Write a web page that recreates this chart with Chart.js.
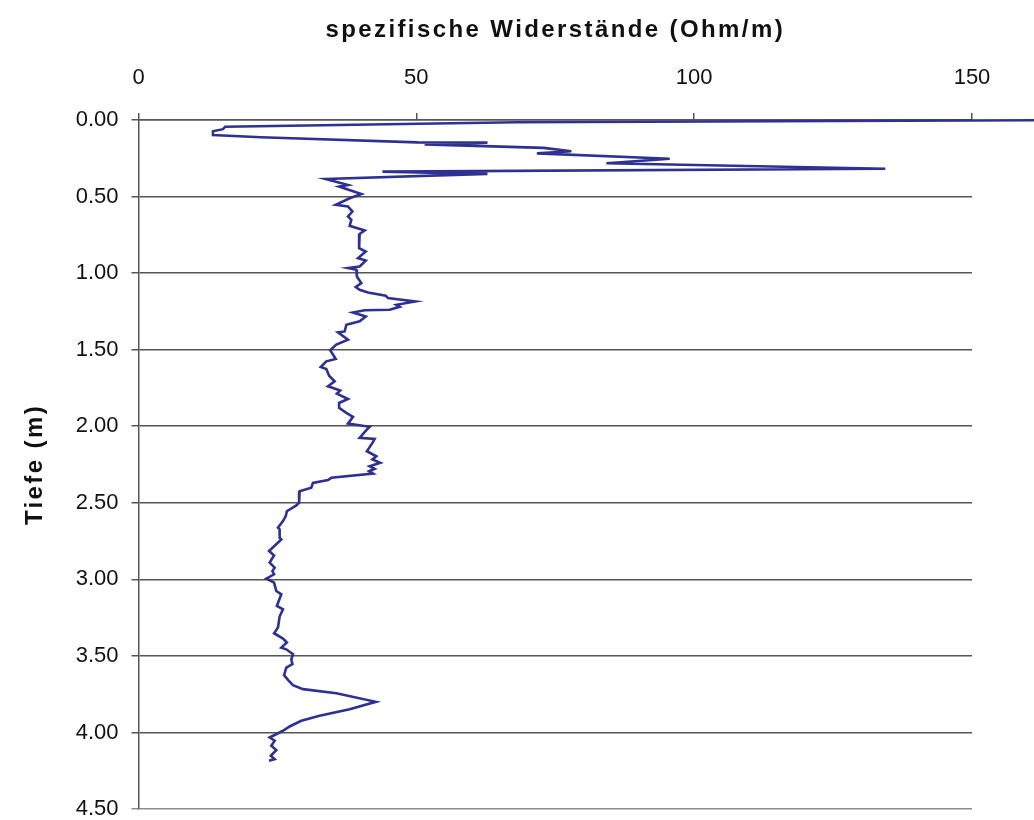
<!DOCTYPE html>
<html>
<head>
<meta charset="utf-8">
<title>Widerstandsprofil</title>
<script src="https://cdn.jsdelivr.net/npm/chart.js@4.4.1/dist/chart.umd.min.js"></script>
<style>
    html, body { margin: 0; padding: 0; background: #fff; }
    #wrap { width: 1034px; height: 820px; }
</style>
</head>
<body>
<div id="wrap"><canvas id="profileChart" width="1034" height="820"></canvas></div>
<script>
// Tiefe (m) und spezifischer Widerstand (Ohm/m)
const depths = [
    0.000, 0.015, 0.044, 0.060, 0.074, 0.098, 0.113, 0.146, 0.148, 0.159,
    0.182, 0.204, 0.218, 0.253, 0.282, 0.318, 0.337, 0.352, 0.385, 0.424,
    0.435, 0.483, 0.511, 0.554, 0.565, 0.598, 0.630, 0.652, 0.691, 0.722,
    0.744, 0.837, 0.859, 0.902, 0.918, 0.957, 0.967, 0.978, 1.022, 1.065,
    1.091, 1.109, 1.126, 1.148, 1.163, 1.185, 1.207, 1.220, 1.239, 1.243,
    1.257, 1.283, 1.315, 1.337, 1.381, 1.387, 1.435, 1.467, 1.504, 1.561,
    1.576, 1.613, 1.626, 1.670, 1.707, 1.739, 1.767, 1.787, 1.822, 1.848,
    1.880, 1.913, 1.939, 1.983, 2.004, 2.026, 2.076, 2.083, 2.109, 2.163,
    2.196, 2.217, 2.239, 2.261, 2.278, 2.294, 2.309, 2.337, 2.352, 2.370,
    2.402, 2.424, 2.500, 2.517, 2.555, 2.587, 2.620, 2.663, 2.674, 2.728,
    2.739, 2.815, 2.844, 2.891, 2.924, 2.946, 2.967, 2.996, 3.022, 3.076,
    3.098, 3.174, 3.196, 3.243, 3.315, 3.352, 3.387, 3.413, 3.446, 3.457,
    3.489, 3.522, 3.554, 3.576, 3.626, 3.657, 3.691, 3.717, 3.744, 3.800,
    3.848, 3.891, 3.924, 3.961, 3.989, 4.033, 4.054, 4.087, 4.115, 4.152,
    4.174, 4.185
];
const resistivity = [
    170.0, 68.1, 15.6, 15.2, 13.4, 13.4, 22.0, 50.2, 62.8, 51.5,
    72.9, 77.9, 71.7, 95.6, 84.2, 134.4, 43.9, 62.8, 33.7, 37.7,
    36.1, 40.1, 38.0, 35.5, 37.7, 38.5, 37.7, 38.3, 38.0, 40.7,
    39.8, 39.7, 40.9, 39.5, 40.9, 39.8, 37.7, 39.2, 39.3, 40.1,
    39.1, 39.8, 41.3, 44.5, 44.9, 49.8, 46.4, 47.0, 45.2, 40.7,
    38.6, 40.9, 39.8, 37.4, 37.1, 35.9, 37.7, 35.6, 34.5, 35.5,
    33.8, 32.8, 33.8, 34.3, 35.3, 34.1, 36.3, 35.7, 37.7, 36.1,
    36.1, 37.4, 38.6, 37.7, 41.6, 41.0, 39.8, 42.5, 42.1, 41.1,
    42.8, 42.1, 43.5, 41.6, 42.5, 41.5, 42.2, 34.7, 34.1, 31.4,
    31.1, 29.0, 28.9, 28.4, 26.7, 26.5, 26.0, 25.1, 25.4, 25.4,
    25.7, 23.5, 24.4, 23.6, 24.5, 24.1, 24.4, 23.0, 24.4, 24.8,
    25.7, 24.9, 26.0, 25.4, 25.1, 24.4, 26.0, 26.7, 25.7, 26.6,
    27.8, 27.5, 27.7, 26.6, 26.2, 26.9, 27.8, 29.6, 35.6, 42.7,
    38.0, 32.6, 29.3, 27.2, 26.0, 23.6, 24.5, 23.9, 24.8, 23.8,
    24.5, 23.5
];

const resistivityTicks = [0, 50, 100, 150];
const depthTicks = [0, 0.5, 1, 1.5, 2, 2.5, 3, 3.5, 4, 4.5];

const points = depths.map((d, i) => ({ x: resistivity[i], y: d }));

const axisFont = { family: '"Liberation Sans", Arial, sans-serif', size: 22 };
const titleFont = { family: '"Liberation Sans", Arial, sans-serif', size: 24, weight: 'bold' };

// Titel mit Sperrung, Tick-Beschriftung ohne
const titleSpacing = {
    id: 'titleSpacing',
    beforeDraw(chart) { chart.ctx.letterSpacing = '2.4px'; },
    beforeDatasetsDraw(chart) { chart.ctx.letterSpacing = '0px'; }
};

new Chart(document.getElementById('profileChart'), {
    type: 'scatter',
    data: {
        datasets: [{
            data: points,
            showLine: true,
            borderColor: '#2e3192',
            borderWidth: 2.6,
            pointRadius: 0,
            tension: 0,
            clip: false
        }]
    },
    options: {
        responsive: false,
        animation: false,
        layout: { padding: { top: 0, left: 0, right: 62, bottom: 11 } },
        plugins: {
            legend: { display: false },
            tooltip: { enabled: false }
        },
        scales: {
            x: {
                type: 'linear',
                position: 'top',
                min: 0,
                max: 150,
                afterBuildTicks: (s) => { s.ticks = resistivityTicks.map(v => ({ value: v })); },
                afterFit: (s) => { s.height = 120; s.paddingLeft = 0; s.paddingRight = 0; },
                grid: { drawOnChartArea: false, drawTicks: true, tickLength: 7, color: '#555', lineWidth: 1.5 },
                border: { display: true, color: '#555', width: 1.5 },
                ticks: { font: axisFont, color: '#111', padding: 22, maxRotation: 0, z: 1 },
                title: {
                    display: true,
                    text: 'spezifische Widerstände (Ohm/m)',
                    font: titleFont,
                    color: '#111',
                    padding: { top: 16, bottom: 0 }
                }
            },
            y: {
                type: 'linear',
                reverse: true,
                min: 0,
                max: 4.5,
                afterBuildTicks: (s) => { s.ticks = depthTicks.map(v => ({ value: v })); },
                afterFit: (s) => { s.width = 138.5; s.paddingTop = 0; s.paddingBottom = 0; },
                grid: {
                    drawOnChartArea: true,
                    drawTicks: true,
                    tickLength: 7,
                    color: (ctx) => (ctx.tick && ctx.tick.value === 4.5 ? '#8c8c8c' : '#555'),
                    lineWidth: 1.5
                },
                border: { display: true, color: '#555', width: 1.5 },
                ticks: {
                    font: axisFont,
                    color: '#111',
                    padding: 13,
                    z: 1,
                    callback: (v) => Number(v).toFixed(2)
                },
                title: {
                    display: true,
                    text: 'Tiefe (m)',
                    font: titleFont,
                    color: '#111',
                    padding: { top: 21, bottom: 0 }
                }
            }
        }
    },
    plugins: [titleSpacing]
});
</script>
</body>
</html>
